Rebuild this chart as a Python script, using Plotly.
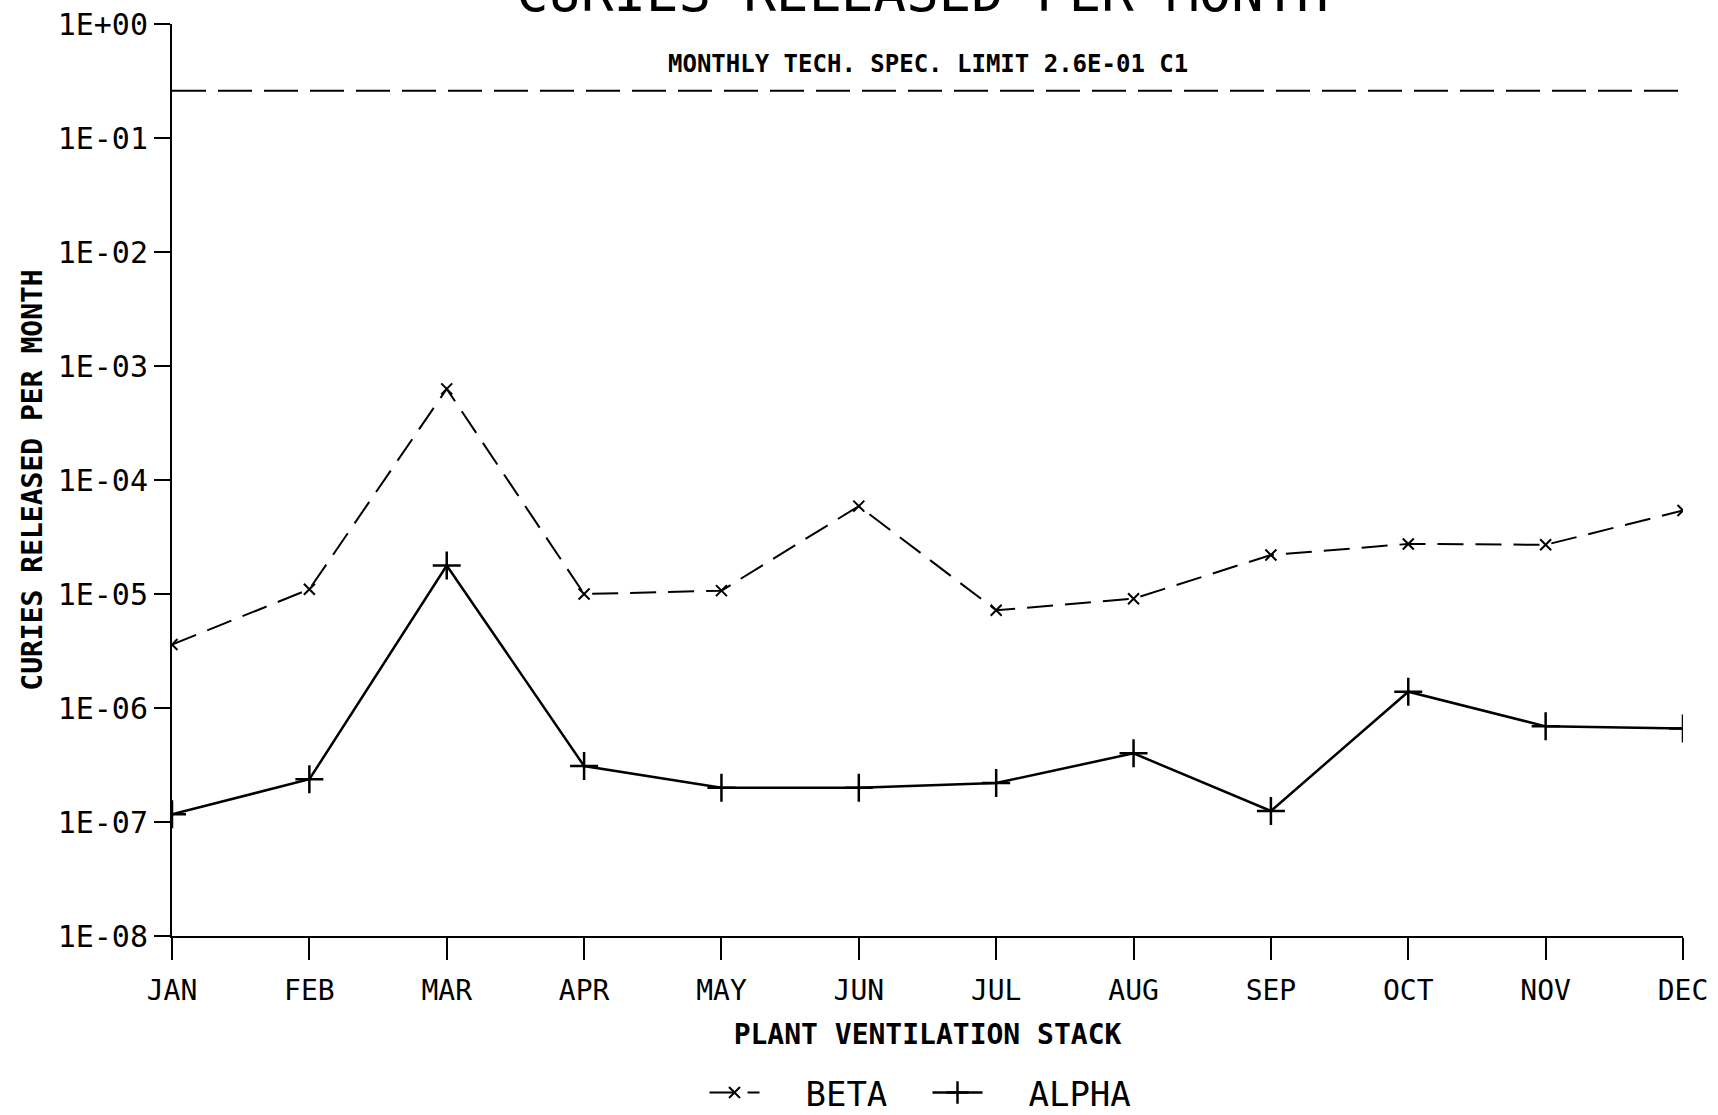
import plotly.graph_objects as go

months = ["JAN", "FEB", "MAR", "APR", "MAY", "JUN", "JUL", "AUG", "SEP", "OCT", "NOV", "DEC"]
beta = [3.6e-6, 1.1e-5, 6.3e-4, 1.0e-5, 1.07e-5, 5.9e-5, 7.2e-6, 9.1e-6, 2.2e-5, 2.75e-5, 2.7e-5, 5.4e-5]
alpha = [1.17e-7, 2.37e-7, 1.78e-5, 3.1e-7, 2.0e-7, 2.0e-7, 2.2e-7, 4.0e-7, 1.25e-7, 1.39e-6, 6.9e-7, 6.6e-7]
limit_value = 2.6e-1
limit_label = "MONTHLY TECH. SPEC. LIMIT 2.6E-01 C1"
ytick_vals = [1e-8, 1e-7, 1e-6, 1e-5, 1e-4, 1e-3, 1e-2, 1e-1, 1e0]
ytick_text = ["1E-08", "1E-07", "1E-06", "1E-05", "1E-04", "1E-03", "1E-02", "1E-01", "1E+00"]

MONO = "DejaVu Sans Mono"

fig = go.Figure()
fig.add_trace(go.Scatter(
    x=months, y=beta, name="&nbsp;&nbsp;BETA", mode="lines+markers",
    line=dict(color="black", width=2, dash="26px,12px"),
    marker=dict(symbol="x-thin", size=11, line=dict(color="black", width=2)),
))
fig.add_trace(go.Scatter(
    x=months, y=alpha, name="&nbsp;&nbsp;ALPHA", mode="lines+markers",
    line=dict(color="black", width=2.5),
    marker=dict(symbol="cross-thin", size=20, line=dict(color="black", width=2.5)),
))

fig.add_shape(type="line", xref="x", yref="y", x0=months[0], x1=months[-1],
              y0=limit_value, y1=limit_value,
              line=dict(color="black", width=2, dash="34px,12px"))
fig.add_annotation(text="<b>" + limit_label + "</b>", xref="paper", yref="paper",
                   x=0.5, y=1.0, yanchor="middle", yshift=-40, showarrow=False,
                   font=dict(family=MONO, size=24, color="black"))
fig.add_annotation(text="CURIES RELEASED PER MONTH", xref="paper", yref="paper",
                   x=0.497, y=1.0, yanchor="bottom", yshift=-2, showarrow=False,
                   font=dict(family=MONO, size=54, color="black"))

fig.update_layout(
    width=1718, height=1115,
    margin=dict(l=172, r=35, t=24, b=179, autoexpand=False),
    paper_bgcolor="white", plot_bgcolor="white",
    font=dict(family=MONO, color="black"),
    showlegend=True,
    legend=dict(orientation="h", x=0.5, xanchor="center", y=-0.172, yanchor="middle",
                font=dict(family=MONO, size=34, color="black"),
                itemwidth=50, entrywidth=158, bgcolor="rgba(0,0,0,0)"),
)
fig.update_xaxes(
    type="category", range=[0, 11], showline=True, linecolor="black", linewidth=2,
    ticks="outside", ticklen=22, tickwidth=2, tickcolor="black",
    showgrid=False, zeroline=False, ticklabeloverflow="allow",
    tickfont=dict(family=MONO, size=28, color="black"), ticklabelstandoff=6,
    title=dict(text="<b>PLANT VENTILATION STACK</b>", standoff=19,
               font=dict(family=MONO, size=28, color="black")),
)
fig.update_yaxes(
    type="log", range=[-8, 0], showline=True, linecolor="black", linewidth=2,
    ticks="outside", ticklen=16, tickwidth=2, tickcolor="black",
    tickvals=ytick_vals, ticktext=ytick_text,
    showgrid=False, zeroline=False, ticklabeloverflow="allow",
    tickfont=dict(family=MONO, size=30, color="black"),
    title=dict(text="<b>CURIES RELEASED PER MONTH</b>", standoff=7,
               font=dict(family=MONO, size=28, color="black")),
)

fig.write_html("out.html", config={"displayModeBar": False},
               post_script="document.body.style.margin='0px';document.body.style.overflow='hidden';")
